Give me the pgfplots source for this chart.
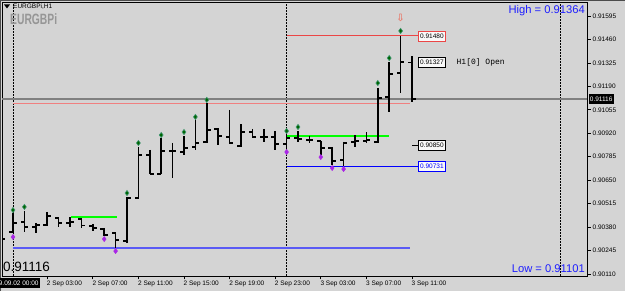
\documentclass[border=0pt]{standalone}
\usepackage{fontspec}
\setmainfont{Liberation Sans}
\newfontfamily\dejavu{DejaVu Sans}
\newfontfamily\monofont{Liberation Mono}
\usepackage{pgfplots}
\pgfplotsset{compat=1.18}
\usepackage{pgfplotstable}

\definecolor{bg}{RGB}{212,212,212}
\definecolor{curgray}{RGB}{128,128,128}
\definecolor{yhigh}{RGB}{240,128,128}
\definecolor{ylow}{RGB}{90,90,245}
\definecolor{thigh}{RGB}{235,70,70}
\definecolor{tlow}{RGB}{0,0,255}
\definecolor{lime}{RGB}{0,255,0}
\definecolor{fgreen}{RGB}{0,100,0}
\definecolor{fgreenedge}{RGB}{60,150,110}
\definecolor{fviolet}{RGB}{170,40,230}
\definecolor{txtblue}{RGB}{30,30,255}
\definecolor{logogray}{RGB}{150,150,150}
\definecolor{arrowred}{RGB}{240,90,70}

% hour index (0 = 2 Sep 00:00), open, high, low, close  (price = 0.9 + value/100000)
\pgfplotstableread{
h o hi lo c
-1 346 369 306 311
0 352 463 346 404
1 409 474 352 381
2 381 404 346 392
3 392 467 386 444
4 432 438 381 404
5 404 438 381 409
6 427 432 375 390
7 386 398 357 375
8 369 375 329 334
9 346 346 262 306
10 300 553 288 547
11 547 841 542 795
12 795 824 686 686
13 686 893 686 818
14 818 864 663 818
15 812 904 795 835
16 841 1002 824 864
17 870 1094 864 939
18 945 950 853 904
19 899 1054 858 864
20 847 973 841 927
21 927 945 893 899
22 899 945 870 899
23 899 933 824 858
24 858 910 835 893
25 893 933 870 887
26 881 904 864 881
27 876 876 795 835
28 835 841 735 760
29 766 870 731 864
30 870 910 841 876
31 876 927 864 881
32 870 1181 864 1123
33 1129 1330 1042 1261
34 1267 1480 1152 1330
35 1327 1364 1101 1116
}\bars

\pgfplotstableread{
h y
0 478
1 496
10 576
11 864
13 910
15 927
16 1014
17 1112
24 933
25 956
32 1209
33 1353
34 1509
}\upfr

\pgfplotstableread{
h y
0 323
8 311
9 242
24 812
27 783
28 720
29 714
}\dnfr

\begin{document}
\begin{tikzpicture}
\useasboundingbox (0pt,0pt) rectangle (625pt,291pt);
\fill[bg] (0pt,0pt) rectangle (625pt,291pt);
\draw[black!70, line width=0.8pt] (0.5pt,0pt) -- (0.5pt,290.5pt) -- (625pt,290.5pt);
\begin{axis}[
  at={(2pt,15pt)}, anchor=south west,
  width=585pt, height=274pt, scale only axis,
  xmin=-0.965, xmax=50.35, ymin=98.5, ymax=1675.6,
  clip mode=individual,
  axis line style={black, line width=0.9pt},
  xtick={3,7,11,15,19,23,27,31,35},
  xticklabels={2 Sep 03:00,2 Sep 07:00,2 Sep 11:00,2 Sep 15:00,2 Sep 19:00,2 Sep 23:00,3 Sep 03:00,3 Sep 07:00,3 Sep 11:00},
  ytick={110,245,380,515,650,785,920,1055,1190,1325,1460,1595},
  yticklabels={0.90110,0.90245,0.90380,0.90515,0.90650,0.90785,0.90920,0.91055,0.91190,0.91325,0.91460,0.91595},
  xtick pos=left, ytick pos=right,
  tick align=outside, major tick length=3.5pt,
  tick style={black, line width=0.8pt},
  ticklabel style={font=\fontsize{6.5}{7}\selectfont, text=black},
  xticklabel style={anchor=north west, xshift=-1.5pt, inner sep=1pt},
  yticklabel style={anchor=west, inner sep=1pt, xshift=1pt},
]
% day separators
\addplot[black, line width=0.8pt, dash pattern=on 1.5pt off 1.5pt, forget plot] coordinates {(0,98.5) (0,1675.6)};
\addplot[black, line width=0.8pt, dash pattern=on 1.5pt off 1.5pt, forget plot] coordinates {(24,98.5) (24,1675.6)};
\addplot[black, line width=0.8pt, dash pattern=on 1.5pt off 1.5pt, forget plot] coordinates {(48,98.5) (48,1675.6)};
% level lines
\addplot[curgray, line width=1.6pt] coordinates {(-0.965,1116) (50.35,1116)};
\addplot[yhigh, line width=1.5pt] coordinates {(0,1092) (34.8,1092)};
\addplot[ylow, line width=1.5pt] coordinates {(0,261) (34.8,261)};
\addplot[thigh, line width=1pt] coordinates {(24,1480) (35.5,1480)};
\addplot[tlow, line width=1pt] coordinates {(24,731) (35.5,731)};
\addplot[black, line width=1pt] coordinates {(35,850) (35.5,850)};
\addplot[lime, line width=2pt] coordinates {(5.1,440) (9.1,440)};
\addplot[lime, line width=2pt] coordinates {(24,904) (33,904)};
% OHLC bars
\addplot[draw=none, mark=none, error bars/.cd, y dir=both, y explicit,
  error mark=none, error bar style={draw=black, line width=1.6pt}]
  table[x=h, y=hi, y error plus expr=0, y error minus expr=\thisrow{hi}-\thisrow{lo}] {\bars};
\addplot[draw=none, mark=none, error bars/.cd, x dir=minus, x explicit,
  error mark=none, error bar style={draw=black, line width=1.5pt}]
  table[x=h, y=o, x error expr=0.33] {\bars};
\addplot[draw=none, mark=none, error bars/.cd, x dir=plus, x explicit,
  error mark=none, error bar style={draw=black, line width=1.5pt}]
  table[x=h, y=c, x error expr=0.33] {\bars};
% fractal marks
\addplot[only marks, mark=diamond*, mark size=2.6pt, mark options={fill=fgreen, draw=fgreenedge, line width=0.6pt}] table[x=h, y=y] {\upfr};
\addplot[only marks, mark=diamond*, mark size=2.6pt, mark options={fill=fviolet, draw=fviolet, line width=0.4pt}] table[x=h, y=y] {\dnfr};
\addplot[only marks, mark=text, text mark as node=true, text mark={⇩}, text mark style={font=\dejavu\fontsize{10}{10}\selectfont, text=arrowred, inner sep=0pt}] coordinates {(34,1583)};
% price labels
\node[anchor=west, draw=thigh, fill=white!85!bg, text=black, font=\fontsize{6.5}{7}\selectfont, inner sep=1.5pt, minimum height=10pt, line width=0.8pt] at (axis cs:35.55,1480) {0.91480};
\node[anchor=west, draw=black, fill=white!85!bg, text=black, font=\fontsize{6.5}{7}\selectfont, inner sep=1.5pt, minimum height=10pt, line width=0.8pt] at (axis cs:35.55,1327) {0.91327};
\node[anchor=west, draw=black, fill=white!85!bg, text=black, font=\fontsize{6.5}{7}\selectfont, inner sep=1.5pt, minimum height=10pt, line width=0.8pt] at (axis cs:35.55,850) {0.90850};
\node[anchor=west, draw=tlow, fill=white!85!bg, text=tlow, font=\fontsize{6.5}{7}\selectfont, inner sep=1.5pt, minimum height=10pt, line width=0.8pt] at (axis cs:35.55,731) {0.90731};
\node[anchor=west, font=\monofont\fontsize{8}{8}\selectfont, inner sep=0pt] at (axis cs:38.9,1327) {H1[0] Open};
\end{axis}
% current price box on the scale
\node[anchor=west, fill=black, text=white, font=\fontsize{6.5}{7}\selectfont, inner sep=1.2pt, minimum height=9.5pt] at (588.5pt,191.8pt) {0.91116};
% time cursor box
\node[anchor=east, fill=black, text=white, font=\fontsize{6.5}{7}\selectfont, inner sep=1.2pt, minimum height=9.5pt] at (40pt,8pt) {2009.09.02 00:00};
% header
\fill[black] (4pt,286.5pt) -- (10pt,286.5pt) -- (7pt,282.5pt) -- cycle;
\node[anchor=west, font=\fontsize{6.5}{7}\selectfont, inner sep=0pt] at (13pt,284.5pt) {EURGBPi,H1};
\node[anchor=west, inner sep=0pt, text=logogray, font=\bfseries\fontsize{10.3}{11}\selectfont] at (10pt,271.5pt) {\scalebox{1}[1.45]{EURGBPi}};
\node[anchor=east, inner sep=0pt, text=txtblue, font=\fontsize{11.2}{12}\selectfont] at (585pt,280.5pt) {High = 0.91364};
\node[anchor=east, inner sep=0pt, text=txtblue, font=\fontsize{11.2}{12}\selectfont] at (585pt,22pt) {Low = 0.91101};
\node[anchor=west, inner sep=0pt, text=black, font=\fontsize{13.5}{14}\selectfont] at (3pt,24pt) {0.91116};
\end{tikzpicture}
\end{document}
